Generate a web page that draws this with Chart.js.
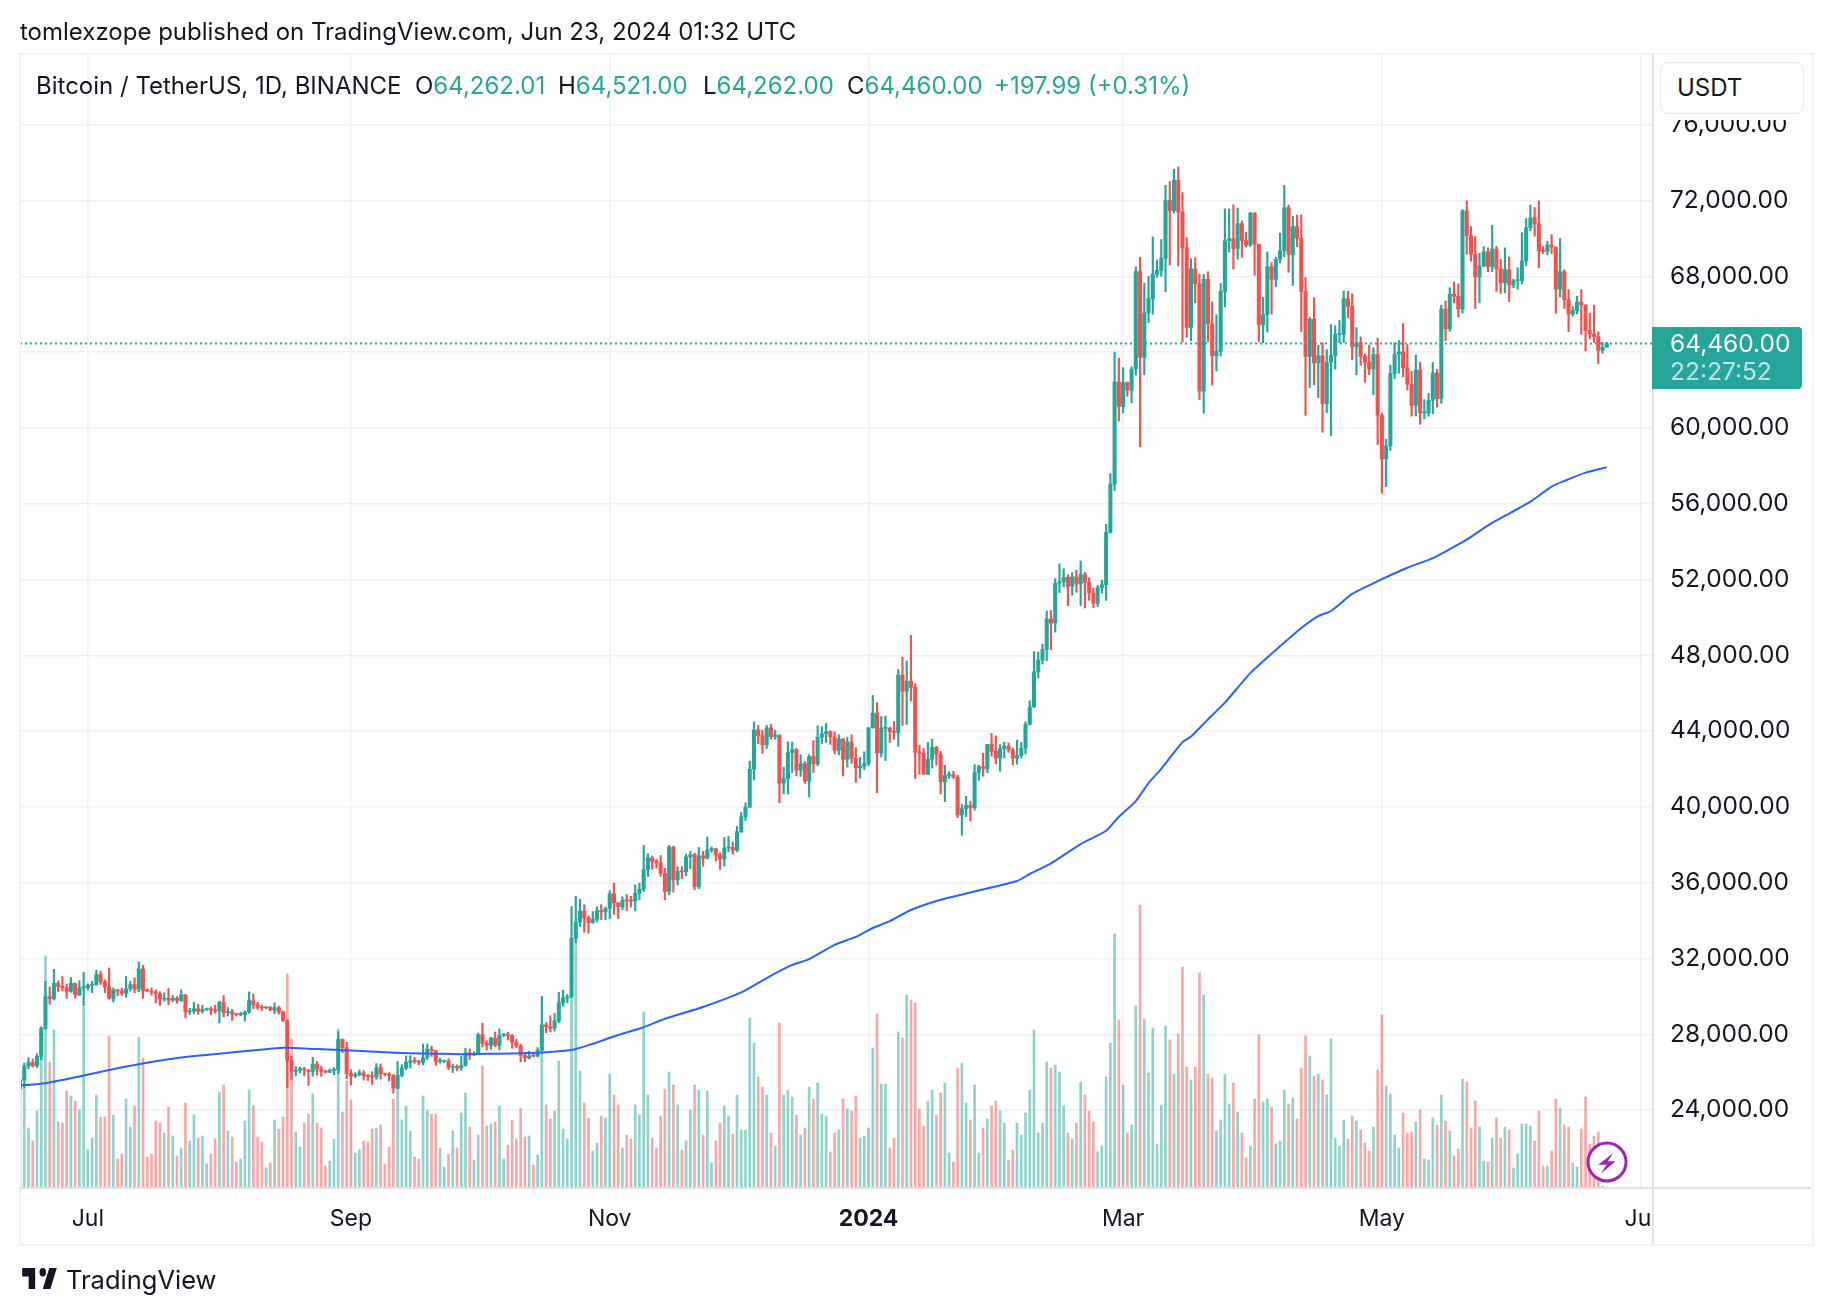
<!DOCTYPE html>
<html>
<head>
<meta charset="utf-8">
<title>Bitcoin / TetherUS</title>
<script src="https://cdn.jsdelivr.net/npm/chart.js@4"></script>
<style>
  html, body { margin: 0; background: #fff; }
  body { width: 1832px; height: 1314px; position: relative; overflow: hidden; font-family: Inter, sans-serif; color: #131722; }
  canvas { position: absolute; left: 0; top: 0; }
  .abs { position: absolute; white-space: nowrap; }
  .legend { top: 72px; font-size: 24px; line-height: 28px; }
  .green { color: #26a69a; }
</style>
</head>
<body>
<canvas id="myChart" width="1832" height="1314"></canvas>

<div class="abs" style="left:19px;top:53px;width:1791px;height:1189px;border:2px solid #f0f3fa"></div>
<div class="abs" style="left:1652px;top:54px;width:2px;height:1190px;background:#e1e2e6"></div>
<div class="abs" style="left:20px;top:1187px;width:1791px;height:2px;background:#e1e2e6"></div>
<div class="abs" style="left:1654px;top:1189px;width:157px;height:54px;background:#fff"></div>

<div class="abs" style="left:20px;top:18px;font-size:24px;line-height:28px">tomlexzope published on TradingView.com, Jun 23, 2024 01:32 UTC</div>

<div class="abs legend" style="left:36px">Bitcoin / TetherUS, 1D, BINANCE</div>
<div class="abs legend" style="left:415px">O<span class="green">64,262.01</span></div>
<div class="abs legend" style="left:558px">H<span class="green">64,521.00</span></div>
<div class="abs legend" style="left:703px">L<span class="green">64,262.00</span></div>
<div class="abs legend" style="left:847px">C<span class="green">64,460.00</span></div>
<div class="abs legend green" style="left:994px">+197.99 (+0.31%)</div>

<div class="abs" style="left:1654px;top:112px;width:157px;height:8px;background:#fff"></div>
<div class="abs" style="left:1660px;top:62px;width:142px;height:50px;background:#fff;border:1px solid #e8eaf0;border-radius:8px"></div>
<div class="abs" style="left:1677px;top:74px;font-size:24px;line-height:28px">USDT</div>

<div class="abs" style="left:1652px;top:327px;width:150px;height:62px;background:#26a69a;border-radius:0 4px 4px 0"></div>
<div class="abs" style="left:1670px;top:329px;font-size:24.5px;line-height:29px;color:#fff">64,460.00</div>
<div class="abs" style="left:1670px;top:357px;font-size:24.5px;line-height:29px;color:rgba(255,255,255,.7)">22:27:52</div>

<svg class="abs" style="left:1586px;top:1141px" width="42" height="42" viewBox="0 0 42 42">
  <circle cx="21" cy="21" r="19" fill="#fff" stroke="#9c27b0" stroke-width="3"/>
  <path d="M27.3 12 L12.3 23.7 L20.7 23.7 L14.7 32.7 L29.7 20.3 L21.7 20.3 Z" fill="#9c27b0"/>
</svg>

<svg class="abs" style="left:20px;top:1268px" width="39" height="21" viewBox="0 6 36 15" preserveAspectRatio="none">
  <path d="M14 6H2v6h6v9h6V6zm14 15h-7l6-15h7l-6 15zm-7-9a3 3 0 1 0 0-6 3 3 0 0 0 0 6z" fill="#131722"/>
</svg>
<div class="abs" style="left:66px;top:1264px;font-size:25.5px;line-height:32px">TradingView</div>

<script>
// daily candles, 15 jun 2023 -> 23 jun 2024
const opens = [
  25120,25580,26330,26510,26340,26840,28310,29990,29890,30690,30530,30460,30270,30690,30080,30450,
  30470,30590,30620,31160,30770,30510,29900,30350,30290,30170,30410,30620,30380,31450,30310,30290,30230,30140,29860,29910,29800,29900,29790,30080,29180,29230,29350,29210,29310,29350,29280,
  29230,29680,29150,29180,29070,29040,29040,29180,29770,29560,29430,29400,29420,29280,29410,29170,28700,26620,26050,26100,26190,26120,26040,26430,26160,26050,26000,26090,26110,27730,27300,
  25930,25800,25870,25970,25810,25780,25750,26240,25910,25900,25830,25160,25840,26220,26520,26600,26570,26530,26760,27210,27130,26570,26580,26580,26260,26300,26220,26350,27020,26910,
  26970,27980,27530,27430,27800,27420,27950,27970,27940,27580,27390,26880,26760,26860,26850,27150,28500,28400,28320,28710,29670,29920,29990,33070,33920,34500,34150,33890,34080,34530,34470,
  34640,35420,34940,34730,35080,35050,35040,35440,35660,36690,37310,37140,37050,36500,35540,37880,36150,36600,36570,37360,37480,35790,37420,37290,37720,37800,37480,37250,37830,37860,
  37710,38690,39480,39980,41990,44070,43760,43270,44170,43710,43790,41250,41490,42870,43020,41940,42280,41370,42660,42270,43670,43860,43970,43700,42990,43580,42510,43430,42560,42070,42140,
  42280,44180,44950,42850,44150,44150,43970,43930,46950,46110,46630,46310,42890,42840,41730,42510,43140,42780,41330,41660,41700,41580,39570,39900,40080,39960,41820,42120,42030,43300,42940,
  42580,43080,43200,43010,42580,42710,43100,44350,45290,47130,47750,48300,49920,49700,51800,51880,52120,51640,52140,51770,52260,51850,51290,50740,51570,51730,54480,57040,62430,
  61130,62390,61990,63110,68250,63720,66070,66820,68120,68310,68950,72000,71460,73070,71390,69500,65300,68390,67610,61940,67840,65500,63800,64040,67210,69880,69990,69470,70780,69900,69650,
  71330,69700,65450,65980,68510,67840,68900,69360,71620,69150,70630,70010,67200,63770,65740,63430,63810,61280,63470,63820,64940,64940,66820,66410,64290,64500,63770,63460,63120,63870,
  60670,58360,59060,62880,63890,64010,63170,62310,61190,63050,60790,60790,61450,62900,61550,66270,65230,67050,66940,66280,71450,70150,69170,67970,68550,69290,68510,69440,68400,67650,68350,
  67540,67770,67770,68810,70570,71080,70760,69340,69310,69650,69540,67320,68240,66760,66010,66190,66640,66490,65140,64960,64830,64100,64262
];
const highs = [
  25750,26480,26770,26700,26980,28400,30800,30500,31430,30820,31050,30650,31000,30710,30830,31280,
  30660,30800,31380,31330,30880,31500,30450,30380,30450,31050,30800,30980,31820,31640,30400,30450,30340,30250,30190,30420,30050,29990,30350,30100,29380,29690,29580,29530,29390,29450,29530,
  29740,30050,29410,29320,29110,29170,29240,30240,30130,29690,29540,29450,29470,29660,29490,29230,28780,26840,26300,26280,26260,26140,26790,26560,26320,26110,26170,26240,28140,27760,27580,
  26130,25980,26120,26090,25880,26030,26450,26430,25940,25980,25880,26570,26400,26860,26880,26780,26630,27490,27490,27380,27160,26740,26640,26720,26430,26390,26830,27270,27230,27090,
  28070,28580,27670,27840,28120,28290,28050,28110,27990,27740,27480,26940,27100,26990,27300,30000,28620,28980,29100,30210,30330,30100,34740,35280,35130,34840,34250,34480,34730,34840,34720,
  35580,35980,34940,35260,35380,35290,35880,35980,37970,37530,37410,37240,37430,36760,37970,37930,36840,36850,37500,37650,37560,37860,37650,38420,37890,37820,37590,38380,38440,38150,
  38970,39700,40220,42420,44490,44300,44050,44300,44360,44040,43800,42100,43430,43420,43090,42750,42410,42760,43500,44280,44240,44400,44020,43950,43800,43600,43680,43800,43130,42610,42900,
  44190,45880,45500,44770,44800,44210,44500,47250,47900,47700,49050,46500,43260,43080,43400,43580,43200,42930,42200,41870,41880,41680,40130,40560,40300,42230,42200,42840,43300,43880,43750,
  43290,43420,43380,43120,43530,43400,44490,45600,48200,48170,48590,50330,50360,52040,52820,52570,52250,52370,52490,52980,52380,52090,51550,51700,51960,54910,57590,64000,63680,
  63180,62430,63230,68500,69000,67640,67990,70080,68860,69940,72800,73000,73650,73780,72420,70040,68930,68980,68120,68100,68240,66650,65970,67620,71560,71550,71770,71600,70920,70320,71370,
  71370,69680,66900,69290,68720,69000,70280,72800,71760,71170,71230,71250,67930,65840,66870,64360,64500,64130,65450,65390,65670,67230,67210,67080,65290,64800,63900,64370,64230,64730,
  60780,59400,63320,64490,64610,65500,64400,62990,63840,63470,61490,61820,63450,63100,66480,66700,67400,67700,67600,71520,71980,70620,70100,69220,69560,69500,70690,69580,68900,69500,69020,
  67850,68450,70300,71060,71760,71630,71980,69570,69850,70200,69560,69990,68350,67300,66400,66950,67300,66500,66060,66480,65070,64520,64521
];
const lows = [
  24800,25170,26180,26280,26250,26650,28270,29580,29810,30250,30280,29900,30220,29920,30040,29500,
  30330,30200,30580,30630,30200,29850,29700,30040,30060,29950,30280,30200,30250,29900,30250,30070,29660,29520,29750,29560,29720,29640,29730,28860,29050,29100,29060,29120,29260,29030,29110,
  28590,28920,28960,28740,28960,28970,28700,29110,29350,29320,29260,29360,29250,29090,29060,28700,25170,25620,25800,25970,25810,25300,25790,25860,25780,25970,25980,25860,25920,27020,25660,
  25330,25720,25810,25590,25570,25350,25620,25640,25800,25550,24900,25130,25760,26130,26220,26470,26400,26380,26670,26840,26360,26480,26500,26130,25990,26090,26110,26320,26670,26890,
  26950,27330,27160,27210,27340,27180,27860,27700,27260,27300,26540,26560,26700,26810,26810,27110,28090,28130,28170,28610,29480,29660,29880,32830,33690,33390,33340,33860,33930,34050,34050,
  34100,34330,34100,34580,34530,34720,34520,35110,35540,36330,36710,36770,36340,35100,35360,35500,35880,36220,36370,36740,35630,35680,36870,37250,37600,37150,36700,36880,37620,37500,
  37630,38650,39280,39980,41420,43340,42820,43080,43580,43560,40220,40680,40680,41810,41640,41610,41250,40530,41810,42180,43340,43400,43300,42800,42750,41640,42100,42300,41300,41520,41970,
  42180,44150,40750,42630,42450,43400,43570,43200,44300,44350,45600,41500,41720,41720,41700,42050,42200,40680,40280,41500,41500,39430,38500,39490,39260,39830,41400,41620,41800,42680,42270,
  41880,42580,42880,42220,42260,42570,42790,44330,45240,46800,47540,47710,48300,49220,51310,51620,50620,51170,51320,50630,50500,50900,50520,50580,51280,50900,54450,56690,60360,
  60800,61660,61320,62770,59000,62800,65560,66000,67950,68000,67190,68600,71330,68550,64530,64780,64600,66600,61500,60780,64530,62260,63000,63800,66390,69280,68380,68900,69000,69540,69570,
  68060,64550,64490,65060,66010,67450,68700,69040,68210,67520,69560,65090,60660,62130,62270,61600,59770,60800,59600,63100,64500,64500,65800,63600,62800,63300,62400,62800,61750,59120,
  56550,56900,58810,62600,62880,62700,62000,60620,60630,60190,60490,60620,60750,61100,61300,64600,65100,66600,65850,66060,69160,68800,66300,66600,68500,68240,68250,67200,67100,67130,66670,
  67400,67320,67600,68560,70400,70120,68450,69200,69140,69200,66050,66900,66300,65080,65900,66020,64950,64060,64700,64500,63380,63930,64262
];
const closes = [
  25580,26330,26510,26340,26840,28310,29990,29890,30690,30530,30460,30270,30690,30080,30450,30470,
  30590,30620,31160,30770,30510,29900,30350,30290,30170,30410,30620,30380,31450,30310,30290,30230,30140,29860,29910,29800,29900,29790,30080,29180,29230,29350,29210,29310,29350,29280,29230,
  29680,29150,29180,29070,29040,29040,29180,29770,29560,29430,29400,29420,29280,29410,29170,28700,26620,26050,26100,26190,26120,26040,26430,26160,26050,26000,26090,26110,27730,27300,25930,
  25800,25870,25970,25810,25780,25750,26240,25910,25900,25830,25160,25840,26220,26520,26600,26570,26530,26760,27210,27130,26570,26580,26580,26260,26300,26220,26350,27020,26910,26970,
  27980,27530,27430,27800,27420,27950,27970,27940,27580,27390,26880,26760,26860,26850,27150,28500,28400,28320,28710,29670,29920,29990,33070,33920,34500,34150,33890,34080,34530,34470,34640,
  35420,34940,34730,35080,35050,35040,35440,35660,36690,37310,37140,37050,36500,35540,37880,36150,36600,36570,37360,37480,35790,37420,37290,37720,37800,37480,37250,37830,37860,37710,
  38690,39480,39980,41990,44070,43760,43270,44170,43710,43790,41250,41490,42870,43020,41940,42280,41370,42660,42270,43670,43860,43970,43700,42990,43580,42510,43430,42560,42070,42140,42280,
  44180,44950,42850,44150,44150,43970,43930,46950,46110,46630,46310,42890,42840,41730,42510,43140,42780,41330,41660,41700,41580,39570,39900,40080,39960,41820,42120,42030,43300,42940,42580,
  43080,43200,43010,42580,42710,43100,44350,45290,47130,47750,48300,49920,49700,51800,51880,52120,51640,52140,51770,52260,51850,51290,50740,51570,51730,54480,57040,62430,61130,
  62390,61990,63110,68250,63720,66070,66820,68120,68310,68950,72000,71460,73070,71390,69500,65300,68390,67610,61940,67840,65500,63800,64040,67210,69880,69990,69470,70780,69900,69650,71330,
  69700,65450,65980,68510,67840,68900,69360,71620,69150,70630,70010,67200,63770,65740,63430,63810,61280,63470,63820,64940,64940,66820,66410,64290,64500,63770,63460,63120,63870,60670,
  58360,59060,62880,63890,64010,63170,62310,61190,63050,60790,60790,61450,62900,61550,66270,65230,67050,66940,66280,71450,70150,69170,67970,68550,69290,68510,69440,68400,67650,68350,67540,
  67770,67770,68810,70570,71080,70760,69340,69310,69650,69540,67320,68240,66760,66010,66190,66640,66490,65140,64960,64830,64100,64260,64460
];
// volume has no scale in the picture, so these are relative heights
const volumes = [
  110,100,60,47,77,158,232,126,158,66,65,97,92,87,78,181,38,50,93,71,71,152,73,29,34,89,61,82,151,130,
  31,34,67,65,55,81,52,32,40,85,47,73,50,52,24,34,49,96,103,57,51,26,29,67,98,82,51,46,20,25,
  68,59,71,214,149,56,41,65,74,94,65,60,22,27,49,159,76,107,88,35,38,47,46,59,60,63,24,41,89,102,
  68,82,57,31,29,92,78,74,74,40,21,34,57,40,75,95,61,28,53,122,62,64,66,82,29,43,68,49,80,51,
  52,23,33,137,83,69,77,127,59,49,188,247,117,85,70,37,45,72,70,114,93,83,40,53,49,83,73,176,93,50,
  40,72,99,116,103,83,38,47,78,103,98,53,97,25,47,65,82,72,54,93,58,58,170,145,111,101,93,55,42,165,
  93,98,91,73,53,60,101,89,105,74,72,36,55,58,89,79,77,92,50,52,60,140,174,104,104,40,50,156,150,193,
  188,185,79,62,87,98,73,95,105,35,26,120,125,85,68,103,35,60,69,82,87,77,65,28,38,65,53,75,98,158,
  55,65,126,120,123,116,82,55,49,65,106,93,77,66,36,42,111,145,254,168,103,55,63,182,283,169,115,160,44,83,
  162,148,114,154,221,121,108,121,215,193,114,110,57,68,114,84,105,76,55,30,42,89,153,86,89,81,44,47,98,84,
  90,69,120,152,132,112,114,108,93,149,50,42,68,49,72,67,58,45,37,61,118,173,102,94,53,40,75,55,56,66,
  78,29,28,70,63,93,67,57,32,39,109,106,60,87,61,27,26,50,70,50,61,58,20,34,64,64,62,47,77,22,
  22,37,89,80,63,61,25,21,59,91,44,52,56,2,1
];
// 200 day average, sampled along the line
const maDays = [0,6,14,21,28,37,47,56,62,70,78,85,92,98,104,112,120,125,130,134,141,147,152,161,170,176,182,186,192,197,201,205,210,217,225,235,238,243,250,256,259,263,266,269,274,276,280,284,290,298,302,306,309,314,320,327,333,337,341,347,350,356,361,364,369,374];
const maValues = [25290,25420,25770,26120,26420,26750,26980,27170,27290,27220,27150,27070,27000,26980,26950,26980,27010,27070,27170,27430,27960,28370,28820,29440,30210,30970,31660,31970,32720,33140,33610,33970,34560,35100,35540,36090,36460,37020,38040,38740,39480,40310,41260,42010,43420,43710,44620,45500,47060,48670,49440,50070,50340,51240,51910,52620,53130,53600,54100,55000,55360,56110,56900,57200,57640,57930];

const priceTicks = [24000,28000,32000,36000,40000,44000,48000,52000,56000,60000,64000,68000,72000,76000];
const timeTicks = [16,78,139,200,260,321,382];
const timeLabels = ["Jul","Sep","Nov","2024","Mar","May","Jul"];
const lastPrice = 64460;

const upColor = "#26a69a";
const downColor = "#ef5350";
const fontName = "Inter, sans-serif";

const isUp = (i) => closes[i] >= opens[i];
const candleColors = opens.map((o, i) => (isUp(i) ? upColor : downColor));
const volumeColors = opens.map((o, i) => (isUp(i) ? "rgba(38,166,154,0.5)" : "rgba(239,83,80,0.5)"));

const ctx = document.querySelector("#myChart").getContext("2d");
const myChart = new Chart(ctx, {
  type: "bar",
  data: {
    datasets: [
      {
        label: "Volume",
        yAxisID: "vol",
        data: volumes.map((v, i) => ({ x: i, y: v })),
        backgroundColor: volumeColors,
        barThickness: 2,
        grouped: false,
        order: 5,
      },
      {
        type: "line",
        label: "Last price",
        data: [{ x: 0, y: lastPrice }, { x: 385, y: lastPrice }],
        borderColor: upColor,
        borderWidth: 2,
        borderDash: [2, 3],
        pointRadius: 0,
        order: 4,
      },
      {
        label: "Wick",
        data: lows.map((l, i) => ({ x: i, y: [l, highs[i]] })),
        backgroundColor: candleColors,
        barThickness: 1.5,
        grouped: false,
        order: 3,
      },
      {
        label: "Body",
        data: opens.map((o, i) => ({ x: i, y: [o, closes[i]] })),
        backgroundColor: candleColors,
        barThickness: 3.4,
        minBarLength: 1,
        grouped: false,
        order: 2,
      },
      {
        type: "line",
        label: "MA 200",
        data: maDays.map((d, i) => ({ x: d, y: maValues[i] })),
        borderColor: "#2962ff",
        borderWidth: 2,
        pointRadius: 0,
        tension: 0.2,
        order: 1,
      },
    ],
  },
  options: {
    responsive: false,
    animation: false,
    layout: { padding: { left: 20, top: 54, right: 20, bottom: 70 } },
    plugins: { legend: { display: false }, tooltip: { enabled: false } },
    scales: {
      x: {
        type: "linear",
        min: 0,
        max: 384.9,
        offset: false,
        grid: { offset: false, color: "#f0f1f4", lineWidth: 1.5, drawTicks: false },
        border: { display: false },
        afterBuildTicks: (scale) => { scale.ticks = timeTicks.map((v) => ({ value: v })); },
        afterFit: (scale) => { scale.height = 56; },
        ticks: {
          autoSkip: false,
          maxRotation: 0,
          padding: 17,
          color: "#131722",
          font: (c) => ({ family: fontName, size: 23, weight: c.tick && c.tick.value === 200 ? "700" : "400" }),
          callback: (v) => timeLabels[timeTicks.indexOf(v)],
        },
      },
      y: {
        position: "right",
        min: 19890,
        max: 79731,
        grid: { color: "#f0f1f4", lineWidth: 1.5, drawTicks: false },
        border: { display: false },
        afterBuildTicks: (scale) => { scale.ticks = priceTicks.map((v) => ({ value: v })); },
        afterFit: (scale) => { scale.width = 159; },
        ticks: {
          padding: 17,
          color: "#131722",
          font: { family: fontName, size: 24.5 },
          callback: (v) => v.toLocaleString("en-US", { minimumFractionDigits: 2 }),
        },
      },
      vol: { display: false, min: 0, max: 1134 },
    },
  },
});
</script>
</body>
</html>
